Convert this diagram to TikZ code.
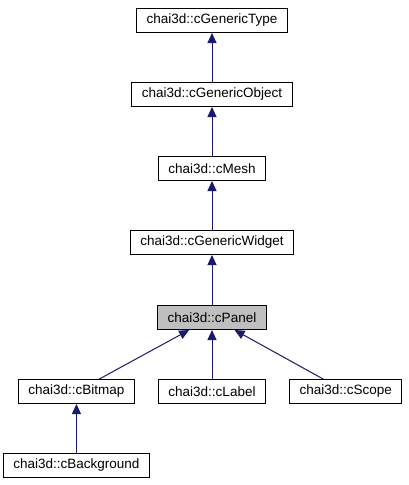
\documentclass[tikz,border=0pt]{standalone}
\usepackage{fontspec}
\setmainfont{Liberation Sans}
\usepackage{xcolor}
\usetikzlibrary{arrows.meta, positioning}

\definecolor{edgeblue}{RGB}{25,25,112}

\begin{document}
\begin{tikzpicture}[
            x=1pt, y=1pt,
            node distance=49pt and 23pt,
            font=\fontsize{13.5}{16}\selectfont,
            cls/.style={rectangle, draw=black, fill=white, line width=1pt, minimum width=107pt, minimum height=24pt, inner xsep=10pt, inner ysep=0pt},
            current/.style={cls, fill=black!25},
            inherit/.style={draw=edgeblue, line width=1pt, -{Triangle[length=10pt, width=9pt]}}
        ]

        \useasboundingbox (0,0) rectangle (408,-485);

        \node (gentype) [cls] at (212,-20.5) {chai3d::cGenericType};
        \node (genobj) [cls, below=of gentype] {chai3d::cGenericObject};
        \node (mesh) [cls, below=of genobj] {chai3d::cMesh};
        \node (widget) [cls, below=of mesh] {chai3d::cGenericWidget};
        \node (panel) [current, below=50pt of widget] {chai3d::cPanel};
        \node (label) [cls, below=of panel] {chai3d::cLabel};
        \node (bitmap) [cls, left=of label] {chai3d::cBitmap};
        \node (scope) [cls, right=of label] {chai3d::cScope};
        \node (backgr) [cls, below=of bitmap] {chai3d::cBackground};

        \draw [inherit] (genobj) -- (gentype);
        \draw [inherit] (mesh) -- (genobj);
        \draw [inherit] (widget) -- (mesh);
        \draw [inherit] (panel) -- (widget);
        \draw [inherit] (bitmap) -- (panel);
        \draw [inherit] (label) -- (panel);
        \draw [inherit] (scope) -- (panel);
        \draw [inherit] (backgr) -- (bitmap);
        \end{tikzpicture}
\end{document}
